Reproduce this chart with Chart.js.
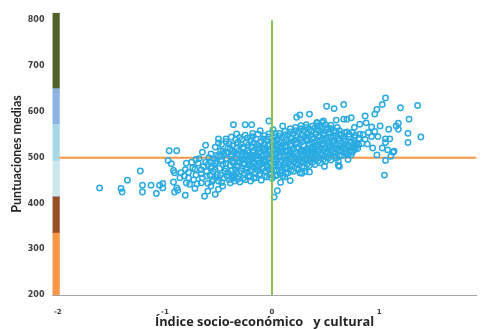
<!DOCTYPE html>
<html>
<head>
<meta charset="utf-8">
<script src="https://cdn.jsdelivr.net/npm/chart.js@4.4.1/dist/chart.umd.min.js"></script>
<style>
  html, body { margin: 0; padding: 0; background: #fff; overflow: hidden; }
  #wrap { width: 482px; height: 329px; position: relative; }
</style>
</head>
<body>
<div id="wrap"><canvas id="chart"></canvas></div>
<script>
// axis ticks
var xTicks = [-2, -1, 0, 1];
var yTicks = [200, 300, 400, 500, 600, 700, 800];

// performance bands drawn at the left edge
var bandX = -2.018;
var bandLow = [200, 337, 416, 494, 574, 652];
var bandHigh = [337, 416, 494, 574, 652, 816];
var bandColors = ["#f79646", "#974f28", "#cce7ee", "#a6d8e6", "#8db3e2", "#4f6228"];

// reference lines
var meanScore = 500;
var meanIndex = 0;

// schools: [index, score]
var schools = [
    [-1.61, 434], [-1.41, 433], [-1.40, 425], [-1.35, 451], [-1.23, 471], [-1.21, 440], [-1.21, 425],
    [-1.13, 440], [-1.08, 422], [-1.05, 440], [-1.02, 444], [-1.02, 434], [-0.96, 515], [-0.89, 515],
    [-0.97, 494], [-0.94, 487], [-0.92, 472], [-0.92, 447], [-0.89, 434], [-0.88, 429], [-0.81, 418],
    [-0.91, 425], [-0.63, 416], [-0.53, 420], [-0.62, 527], [-0.65, 512], [-0.50, 541], [-0.43, 541],
    [-0.36, 572], [-0.25, 572], [-0.19, 572], [-0.03, 580], [0.02, 414], [0.05, 428], [0.17, 450],
    [-0.91, 467], [-0.80, 488], [-0.81, 474], [-0.78, 456], [-0.77, 442], [-0.72, 433], [-0.86, 456],
    [-0.85, 467], [-0.74, 478], [-0.69, 488], [-0.71, 496], [-0.60, 427], [-0.57, 438], [-0.50, 431],
    [-0.46, 438], [-0.39, 445], [-0.66, 445], [-0.61, 460], [-0.55, 470], [-0.66, 474], [-0.60, 485],
    [-0.50, 503], [-0.46, 514], [-0.41, 521], [-0.53, 488],
    [-0.45, 456], [-0.44, 471], [-0.46, 485], [-0.43, 497], [-0.45, 509], [-0.47, 529],
    [-0.50, 449], [-0.51, 463], [-0.49, 477], [-0.52, 492], [-0.48, 515], [-0.50, 532],
    [-0.55, 452], [-0.56, 480], [-0.54, 496], [-0.57, 508], [-0.60, 444], [-0.61, 470], [-0.59, 500],
    [-0.62, 490], [-0.65, 456], [-0.66, 465], [-0.64, 481], [-0.68, 498], [-0.70, 443], [-0.71, 462],
    [-0.72, 475], [-0.75, 490], [-0.78, 468], [-0.82, 460], [-0.80, 445], [-0.73, 452],
    [-0.40, 452], [-0.41, 468], [-0.39, 483], [-0.42, 497], [-0.38, 508], [-0.40, 530], [-0.43, 476],
    [-0.37, 461], [-0.39, 519],
    [-0.35, 449], [-0.36, 463], [-0.34, 474], [-0.36, 488], [-0.33, 499], [-0.35, 512], [-0.37, 526],
    [-0.34, 539], [-0.36, 458], [-0.33, 481],
    [-0.30, 447], [-0.31, 459], [-0.29, 471], [-0.32, 480], [-0.30, 492], [-0.28, 503], [-0.31, 515],
    [-0.29, 529], [-0.30, 544], [-0.27, 486], [-0.32, 507],
    [-0.25, 452], [-0.26, 466], [-0.24, 477], [-0.26, 489], [-0.23, 497], [-0.25, 508], [-0.27, 520],
    [-0.24, 533], [-0.25, 549], [-0.22, 484], [-0.28, 495], [-0.23, 515],
    [-0.20, 449], [-0.21, 461], [-0.19, 472], [-0.21, 483], [-0.18, 492], [-0.20, 501], [-0.22, 511],
    [-0.19, 524], [-0.20, 538], [-0.17, 505], [-0.23, 476], [-0.18, 553], [-0.21, 495],
    [-0.15, 456], [-0.16, 468], [-0.14, 479], [-0.16, 488], [-0.13, 497], [-0.15, 506], [-0.17, 516],
    [-0.14, 528], [-0.15, 541], [-0.12, 489], [-0.18, 500], [-0.13, 519],
    [-0.10, 451], [-0.11, 465], [-0.09, 476], [-0.11, 486], [-0.08, 494], [-0.10, 503], [-0.12, 511],
    [-0.09, 522], [-0.10, 535], [-0.07, 548], [-0.13, 498], [-0.08, 508], [-0.11, 559],
    [-0.05, 458], [-0.06, 471], [-0.04, 482], [-0.06, 491], [-0.03, 499], [-0.05, 507], [-0.07, 516],
    [-0.04, 526], [-0.05, 539], [-0.02, 512], [-0.08, 487], [-0.03, 552],
    [0.00, 455], [-0.01, 468], [0.01, 479], [-0.01, 489], [0.02, 497], [0.00, 505], [-0.02, 513],
    [0.01, 522], [0.00, 533], [0.02, 546], [0.03, 508], [-0.02, 500], [0.01, 561],
    [0.05, 462], [0.04, 474], [0.06, 485], [0.04, 494], [0.07, 501], [0.05, 510], [0.03, 518],
    [0.06, 528], [0.05, 540], [0.08, 514], [0.02, 490], [0.07, 553],
    [0.10, 460], [0.09, 473], [0.11, 484], [0.09, 495], [0.12, 503], [0.10, 511], [0.08, 520],
    [0.11, 531], [0.10, 544], [0.13, 516], [0.07, 506], [0.12, 557],
    [0.15, 467], [0.14, 479], [0.16, 490], [0.14, 499], [0.17, 507], [0.15, 515], [0.13, 524],
    [0.16, 535], [0.15, 549], [0.18, 511], [0.12, 495], [0.17, 563],
    [0.20, 470], [0.19, 482], [0.21, 492], [0.19, 501], [0.22, 509], [0.20, 518], [0.18, 527],
    [0.21, 538], [0.20, 552], [0.23, 522], [0.17, 514], [0.22, 566],
    [0.25, 474], [0.24, 486], [0.26, 496], [0.24, 505], [0.27, 513], [0.25, 521], [0.23, 531],
    [0.26, 542], [0.25, 556], [0.28, 517], [0.22, 500], [0.27, 570],
    [0.30, 478], [0.29, 490], [0.31, 499], [0.29, 508], [0.32, 516], [0.30, 525], [0.28, 535],
    [0.31, 546], [0.30, 559], [0.33, 520], [0.27, 512], [0.32, 572],
    [0.35, 483], [0.34, 494], [0.36, 503], [0.34, 512], [0.37, 520], [0.35, 529], [0.33, 538],
    [0.36, 549], [0.35, 562], [0.38, 524], [0.32, 507],
    [0.40, 485], [0.39, 497], [0.41, 507], [0.39, 515], [0.42, 523], [0.40, 532], [0.38, 541],
    [0.41, 552], [0.40, 565], [0.43, 528], [0.37, 518], [0.42, 575],
    [0.45, 489], [0.44, 500], [0.46, 510], [0.44, 519], [0.47, 527], [0.45, 536], [0.43, 546],
    [0.46, 557], [0.45, 569], [0.48, 531],
    [0.50, 492], [0.49, 503], [0.51, 513], [0.49, 522], [0.52, 530], [0.50, 539], [0.48, 549],
    [0.51, 560], [0.50, 572], [0.53, 534],
    [0.55, 495], [0.54, 507], [0.56, 517], [0.54, 526], [0.57, 534], [0.55, 543], [0.53, 553],
    [0.56, 563], [0.58, 538],
    [0.60, 499], [0.59, 510], [0.61, 520], [0.59, 529], [0.62, 537], [0.60, 546], [0.58, 556], [0.61, 566],
    [0.65, 504], [0.64, 514], [0.66, 523], [0.64, 532], [0.67, 541], [0.65, 550], [0.63, 559],
    [0.70, 510], [0.69, 519], [0.71, 528], [0.69, 537], [0.72, 546], [0.70, 556],
    [0.75, 512], [0.76, 524], [0.74, 533], [0.77, 544], [0.75, 555],
    [0.80, 520], [0.79, 531], [0.81, 542], [0.82, 551],
    [0.12, 458], [0.28, 466], [0.08, 446],
    [-0.58, 462], [-0.57, 477], [-0.58, 491], [-0.56, 448],
    [-0.52, 457], [-0.53, 474], [-0.52, 505], [-0.53, 523],
    [-0.47, 446], [-0.48, 462], [-0.47, 493], [-0.48, 503],
    [-0.42, 460], [-0.43, 487], [-0.42, 512], [-0.43, 535],
    [-0.37, 455], [-0.38, 472], [-0.37, 493], [-0.38, 502], [-0.37, 515], [-0.38, 545],
    [-0.32, 453], [-0.33, 466], [-0.32, 491], [-0.33, 520], [-0.32, 533], [-0.33, 552],
    [-0.27, 455], [-0.28, 477], [-0.27, 497], [-0.28, 509], [-0.27, 523], [-0.28, 540],
    [-0.22, 458], [-0.23, 468], [-0.22, 490], [-0.23, 505], [-0.22, 528], [-0.23, 543],
    [-0.17, 455], [-0.18, 480], [-0.17, 487], [-0.18, 511], [-0.17, 532], [-0.18, 546],
    [-0.12, 462], [-0.13, 472], [-0.12, 482], [-0.13, 504], [-0.12, 524], [-0.13, 551],
    [-0.07, 460], [-0.08, 478], [-0.07, 492], [-0.08, 519], [-0.07, 530], [-0.08, 541],
    [-0.02, 463], [-0.03, 474], [-0.02, 486], [-0.03, 518], [-0.02, 529], [-0.03, 545],
    [0.03, 460], [0.02, 472], [0.03, 484], [0.02, 516], [0.03, 527], [0.02, 538], [0.03, 553],
    [0.08, 466], [0.07, 480], [0.08, 490], [0.07, 523], [0.08, 534], [0.07, 547],
    [0.13, 465], [0.12, 478], [0.13, 489], [0.12, 525], [0.13, 538], [0.12, 550],
    [0.18, 473], [0.17, 485], [0.18, 496], [0.17, 530], [0.18, 543], [0.17, 556],
    [0.23, 477], [0.22, 488], [0.23, 497], [0.22, 533], [0.23, 546], [0.22, 559],
    [0.28, 481], [0.27, 493], [0.28, 502], [0.27, 539], [0.28, 550], [0.27, 563],
    [0.33, 487], [0.32, 496], [0.33, 511], [0.32, 541], [0.33, 553], [0.32, 566],
    [0.38, 490], [0.37, 499], [0.38, 509], [0.37, 534], [0.38, 545], [0.37, 557], [0.38, 569],
    [0.43, 493], [0.42, 502], [0.43, 513], [0.42, 538], [0.43, 560], [0.42, 570],
    [0.48, 496], [0.47, 506], [0.48, 516], [0.47, 541], [0.48, 553], [0.47, 564],
    [0.53, 500], [0.52, 509], [0.53, 519], [0.52, 545], [0.53, 556], [0.52, 566],
    [0.58, 503], [0.57, 513], [0.58, 522], [0.57, 548], [0.58, 559],
    [0.63, 506], [0.62, 516], [0.63, 525], [0.62, 542], [0.63, 552],
    [0.68, 510], [0.67, 520], [0.68, 529], [0.67, 546], [0.68, 555],
    [0.73, 515], [0.72, 524], [0.73, 533], [0.72, 551],
    [0.78, 522], [0.77, 529], [0.78, 549],
    [0.51, 612], [0.58, 607], [0.67, 616], [0.48, 580], [0.35, 595], [0.26, 593], [0.23, 588], [0.10, 569],
    [1.06, 630], [1.03, 616], [0.98, 605], [0.96, 595], [1.20, 609], [1.36, 614], [1.28, 584], [1.39, 545],
    [1.27, 533], [1.27, 553], [1.18, 562], [1.18, 575], [1.09, 562], [1.06, 541], [1.06, 533], [1.10, 541],
    [0.94, 521], [1.03, 521], [0.98, 506], [1.08, 517], [1.13, 512], [1.11, 503], [1.06, 494], [1.05, 462],
    [0.89, 530], [0.87, 540], [0.81, 528], [0.77, 537], [0.87, 591], [0.74, 587], [0.70, 584], [0.67, 584],
    [0.60, 582], [0.55, 571], [0.47, 577], [0.42, 577], [0.62, 492], [0.62, 483], [0.35, 469], [0.26, 467],
    [0.31, 470], [0.49, 481], [0.71, 496], [0.71, 506], [0.77, 517], [1.14, 514], [0.82, 573], [0.88, 576],
    [0.93, 567], [1.01, 569], [1.16, 569], [0.96, 557], [0.90, 555], [0.85, 550], [0.93, 546], [0.99, 546],
    [0.77, 566], [0.84, 531], [0.74, 506], [0.63, 481]
];

var bandData = bandLow.map(function (lo, i) {
    return { x: bandX, y: [lo, bandHigh[i]] };
});

new Chart(document.getElementById("chart"), {
    type: "scatter",
    data: {
        datasets: [
            {
                type: "line",
                data: [{ x: meanIndex, y: 200 }, { x: meanIndex, y: 800 }],
                borderColor: "#8cc152",
                borderWidth: 2,
                pointRadius: 0,
                order: 0
            },
            {
                data: schools.map(function (p) { return { x: p[0], y: p[1] }; }),
                borderColor: "#29abe2",
                backgroundColor: "rgba(255,255,255,0)",
                borderWidth: 1.5,
                pointRadius: 2.7,
                order: 1
            },
            {
                type: "line",
                data: [{ x: -1.985, y: meanScore }, { x: 1.91, y: meanScore }],
                borderColor: "#f79646",
                borderWidth: 2,
                pointRadius: 0,
                order: 2
            },
            {
                type: "bar",
                data: bandData,
                backgroundColor: bandColors,
                barThickness: 7,
                borderWidth: 0,
                order: 3
            }
        ]
    },
    options: {
        animation: false,
        responsive: true,
        maintainAspectRatio: false,
        layout: { padding: { left: 9.5, top: 10, right: 0, bottom: 0 } },
        plugins: { legend: { display: false }, tooltip: { enabled: false } },
        scales: {
            x: {
                type: "linear",
                min: -2.05,
                max: 1.91,
                offset: false,
                stacked: false,
                afterBuildTicks: function (axis) {
                    axis.ticks = xTicks.map(function (v) { return { value: v }; });
                },
                grid: { display: false, drawTicks: false, tickLength: 0, offset: false },
                border: { display: true, color: "#a6a6a6", width: 1 },
                ticks: {
                    padding: 13,
                    color: "#404040",
                    font: { family: "DejaVu Sans", weight: "bold", size: 7, lineHeight: 1 },
                    maxRotation: 0
                },
                title: {
                    display: true,
                    text: "Índice socio-económico   y cultural",
                    color: "#262626",
                    font: { family: "Open Sans", weight: "bold", size: 12.8, lineHeight: 1 },
                    padding: { top: -12, bottom: 0 }
                }
            },
            y: {
                type: "linear",
                min: 200,
                max: 816,
                stacked: false,
                afterBuildTicks: function (axis) {
                    axis.ticks = yTicks.map(function (v) { return { value: v }; });
                },
                grid: { display: false, drawTicks: false, tickLength: 0 },
                border: { display: false },
                ticks: {
                    padding: 8,
                    color: "#404040",
                    font: { family: "DejaVu Sans", weight: "bold", size: 8 }
                },
                title: {
                    display: true,
                    text: "Puntuaciones medias",
                    color: "#262626",
                    font: { family: "Lato", weight: "bold", size: 12.5, lineHeight: 1.2 },
                    padding: { top: 0, bottom: -4.7 }
                }
            }
        }
    }
});
</script>
</body>
</html>
